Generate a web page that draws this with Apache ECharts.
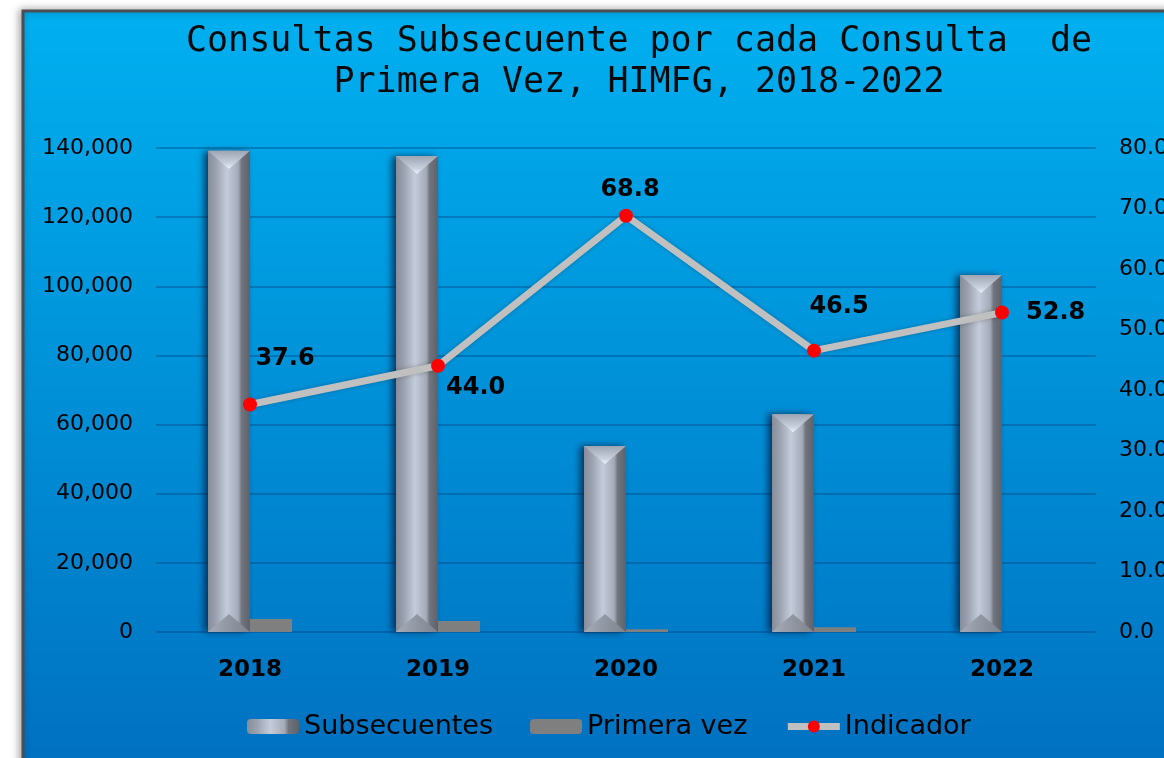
<!DOCTYPE html>
<html>
<head>
<meta charset="utf-8">
<script src="https://cdn.jsdelivr.net/npm/echarts@6/dist/echarts.min.js"></script>
<style>
html, body { margin: 0; padding: 0; background: #fff; }
#main { width: 1164px; height: 758px; }
</style>
</head>
<body>
<div id="main"></div>
<script>
// datos
var years = ['2018', '2019', '2020', '2021', '2022'];
var subsecuentes = [139200, 137700, 53800, 63000, 103300];
var primeraVez = [3750, 3150, 780, 1360, 0];
var indicador = [37.6, 44.0, 68.8, 46.5, 52.8];

var BAR_W = 42;
var chart = echarts.init(document.getElementById('main'));

// posicion de cada etiqueta del indicador (estilo, no datos)
var labelPos = [
    { position: 'top', offset: [35, -22] },
    { position: 'right', offset: [-4, 22] },
    { position: 'top', offset: [4, -2] },
    { position: 'top', offset: [25, -20] },
    { position: 'right', offset: [12, 0] }
];

var barGrad = new echarts.graphic.LinearGradient(0, 0, 1, 0, [
    { offset: 0, color: '#868c98' },
    { offset: 0.18, color: '#9aa1ae' },
    { offset: 0.45, color: '#c4cbda' },
    { offset: 0.72, color: '#a4aab7' },
    { offset: 0.8, color: '#70747d' },
    { offset: 1, color: '#5e6169' }
]);

var option = {
    animation: false,
    graphic: [{
        type: 'rect',
        z: -100,
        shape: { x: 23, y: 11, width: 1200, height: 800 },
        style: {
            fill: new echarts.graphic.LinearGradient(0, 0, 0, 1, [
                { offset: 0, color: '#00b0f0' },
                { offset: 1, color: '#006dbd' }
            ]),
            stroke: '#4a4d52',
            lineWidth: 3,
            shadowColor: 'rgba(0,0,0,0.35)',
            shadowBlur: 8,
            shadowOffsetX: -2
        }
    }],
    title: {
        text: 'Consultas Subsecuente por cada Consulta  de\nPrimera Vez, HIMFG, 2018-2022',
        left: 634,
        textAlign: 'center',
        top: 16,
        textStyle: {
            fontFamily: 'DejaVu Sans Mono',
            fontSize: 35,
            fontWeight: 'normal',
            color: '#0a0a0a',
            lineHeight: 41
        }
    },
    legend: {
        left: 247,
        top: 713,
        padding: 0,
        itemWidth: 52,
        itemHeight: 15,
        itemGap: 37,
        textStyle: { fontFamily: 'DejaVu Sans', fontSize: 27, color: '#000' },
        data: [
            'Subsecuentes',
            'Primera vez',
            { name: 'Indicador', lineStyle: { width: 7, color: '#c0c0c0' } }
        ]
    },
    grid: { left: 156, right: 68, top: 148, bottom: 126, outerBoundsMode: 'none' },
    xAxis: {
        type: 'category',
        data: years,
        axisLine: { show: false },
        axisTick: { show: false },
        axisLabel: {
            margin: 27,
            fontFamily: 'DejaVu Sans',
            fontSize: 23,
            fontWeight: 'bold',
            color: '#000'
        }
    },
    yAxis: [{
        type: 'value',
        min: 0,
        max: 140000,
        interval: 20000,
        axisLine: { show: false },
        axisTick: { show: false },
        splitLine: { lineStyle: { color: 'rgba(0,60,120,0.35)', width: 2 } },
        axisLabel: {
            margin: 23,
            fontFamily: 'DejaVu Sans',
            fontSize: 22,
            color: '#000',
            formatter: function (v) { return v.toLocaleString('en-US'); }
        }
    }, {
        type: 'value',
        min: 0,
        max: 80,
        interval: 10,
        axisLine: { show: false },
        axisTick: { show: false },
        splitLine: { show: false },
        axisLabel: {
            margin: 23,
            fontFamily: 'DejaVu Sans',
            fontSize: 22,
            color: '#000',
            formatter: function (v) { return v.toFixed(1); }
        }
    }],
    series: [{
        name: 'Subsecuentes',
        type: 'bar',
        barWidth: BAR_W,
        barGap: '0%',
        data: subsecuentes,
        itemStyle: {
            color: barGrad,
            shadowColor: 'rgba(0,25,60,0.75)',
            shadowBlur: 7,
            shadowOffsetX: -4
        }
    }, {
        name: 'Primera vez',
        type: 'bar',
        barWidth: BAR_W,
        data: primeraVez,
        itemStyle: { color: '#7f7f7f' }
    }, {
        name: 'bisel',
        type: 'custom',
        silent: true,
        z: 3,
        data: subsecuentes.map(function (v, i) { return [i, v]; }),
        encode: { x: 0, y: 1 },
        renderItem: function (params, api) {
            var top = api.coord([api.value(0), api.value(1)]);
            var base = api.coord([api.value(0), 0]);
            var x0 = top[0] - BAR_W, x1 = top[0], xm = (x0 + x1) / 2;
            var y0 = top[1], yb = base[1], d = 18;
            return {
                type: 'group',
                children: [{
                    type: 'polygon',
                    shape: { points: [[x0, y0], [x1, y0], [xm, y0 + d]] },
                    style: {
                        fill: new echarts.graphic.LinearGradient(0, 0, 0, 1, [
                            { offset: 0, color: '#9ea5b2' },
                            { offset: 0.7, color: '#c9d0de' },
                            { offset: 1, color: '#eef3fb' }
                        ])
                    }
                }, {
                    type: 'polygon',
                    shape: { points: [[x0, yb], [x1, yb], [xm, yb - d]] },
                    style: {
                        fill: new echarts.graphic.LinearGradient(0, 0, 1, 0, [
                            { offset: 0, color: '#a5abb7' },
                            { offset: 1, color: '#7d828c' }
                        ])
                    }
                }]
            };
        }
    }, {
        name: 'Indicador',
        type: 'line',
        yAxisIndex: 1,
        z: 5,
        data: indicador.map(function (v, i) {
            return { value: v, label: labelPos[i] };
        }),
        symbol: 'circle',
        symbolSize: 14,
        lineStyle: {
            color: '#c0c0c0',
            width: 7,
            shadowColor: 'rgba(0,0,0,0.25)',
            shadowBlur: 4
        },
        itemStyle: { color: '#ff0000' },
        label: {
            show: true,
            fontFamily: 'DejaVu Sans',
            fontSize: 24,
            fontWeight: 'bold',
            color: '#000',
            formatter: function (p) { return p.value.toFixed(1); }
        }
    }]
};
chart.setOption(option);
</script>
</body>
</html>
